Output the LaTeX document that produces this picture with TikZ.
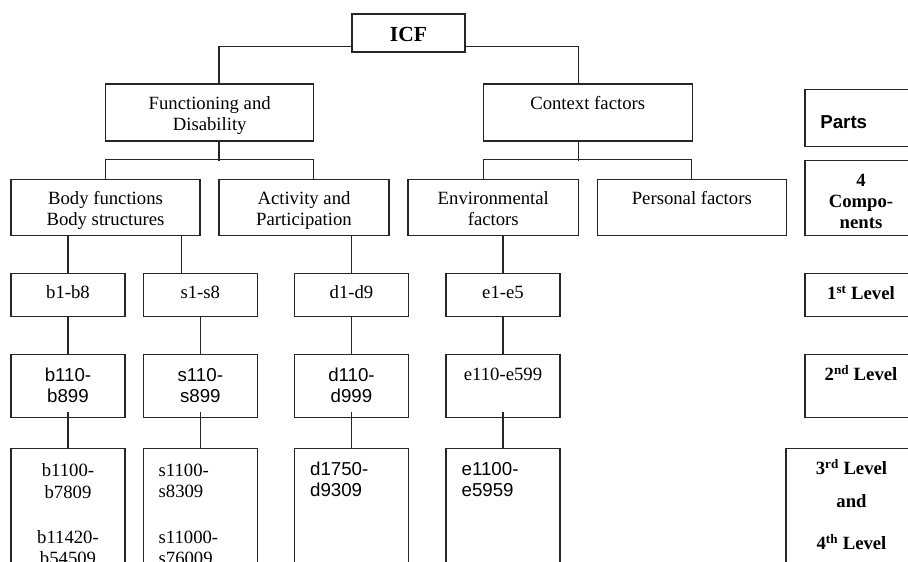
\documentclass[tikz,border=0pt]{standalone}
\usepackage{fontspec}
\setmainfont{Liberation Serif}
\newfontfamily\arialfont{Liberation Sans}
\usetikzlibrary{calc}
\tikzset{
  box/.style={draw=black!85,line width=1.1pt,inner sep=0pt},
  txt/.style={inner sep=0pt,align=center,font=\fontsize{18.7}{21.3}\selectfont},
  btxt/.style={txt,font=\bfseries\fontsize{18.7}{21.3}\selectfont},
  stxt/.style={txt,font=\arialfont\fontsize{18.7}{20.7}\selectfont},
  conn/.style={draw=black!85,line width=1.1pt},
}

\begin{document}
\begin{tikzpicture}[x=1pt,y=-1pt]
\clip (0,0) rectangle (908,562);

% parts and components
\node[box,minimum width=113pt,minimum height=38pt,label={[btxt,font=\bfseries\fontsize{21.5}{24}\selectfont,anchor=base,yshift=-28.3pt]north:ICF}] (icf) at (408.5,33) {};
\node[box,minimum width=208pt,minimum height=57pt,label={[txt,anchor=north,yshift=-13pt]north:{Functioning and\\Disability}}] (func) at (209.7,112.5) {};
\node[box,minimum width=208.7pt,minimum height=57pt,label={[txt,anchor=base,yshift=-26pt]north:Context factors}] (ctx) at (587.7,112.5) {};
\node[box,minimum width=189pt,minimum height=56.7pt,label={[txt,anchor=north,yshift=-12.5pt]north:{Body functions\\Body structures}}] (body) at (105.5,207.4) {};
\node[box,minimum width=170pt,minimum height=56.7pt,label={[txt,anchor=north,yshift=-12.5pt]north:{Activity and\\Participation}}] (act) at (304,207.4) {};
\node[box,minimum width=170.7pt,minimum height=56.7pt,label={[txt,anchor=north,yshift=-12.5pt]north:{Environmental\\factors}}] (env) at (493.3,207.4) {};
\node[box,minimum width=189pt,minimum height=56.7pt,label={[txt,anchor=base,yshift=-25.7pt]north:Personal factors}] (pers) at (691.8,207.4) {};

% 1st level
\node[box,minimum width=114pt,minimum height=43.4pt,label={[txt,anchor=base,yshift=-26pt]north:b1-b8}] (b1) at (68,295) {};
\node[box,minimum width=114pt,minimum height=43.4pt,label={[txt,anchor=base,yshift=-26pt]north:s1-s8}] (s1) at (200.3,295) {};
\node[box,minimum width=114pt,minimum height=43.4pt,label={[txt,anchor=base,yshift=-26pt]north:d1-d9}] (d1) at (351.5,295) {};
\node[box,minimum width=114pt,minimum height=43.4pt,label={[txt,anchor=base,yshift=-26pt]north:e1-e5}] (e1) at (503,295) {};

% 2nd level
\node[box,minimum width=114pt,minimum height=62.7pt,label={[stxt,anchor=north,yshift=-14.3pt]north:{b110-\\b899}}] (b2) at (68,385.7) {};
\node[box,minimum width=114pt,minimum height=62.7pt,label={[stxt,anchor=north,yshift=-14.3pt]north:{s110-\\s899}}] (s2) at (200.3,385.7) {};
\node[box,minimum width=114pt,minimum height=62.7pt,label={[stxt,anchor=north,yshift=-14.3pt]north:{d110-\\d999}}] (d2) at (351.5,385.7) {};
\node[box,minimum width=114pt,minimum height=62.7pt,label={[txt,anchor=base,yshift=-26.7pt]north:e110-e599}] (e2) at (503,385.7) {};

% 3rd and 4th level
\node[box,minimum width=114pt,minimum height=151.3pt,label={[txt,anchor=north,yshift=-15.5pt]north:{b1100-\\b7809\\[24pt]b11420-\\b54509}}] (b3) at (68,524.3) {};
\node[box,minimum width=114pt,minimum height=151.3pt,label={[txt,align=left,anchor=north west,xshift=15.7pt,yshift=-15.7pt]north west:{s1100-\\s8309\\[24pt]s11000-\\s76009}}] (s3) at (200.3,524.3) {};
\node[box,minimum width=114pt,minimum height=151.3pt,label={[stxt,align=left,anchor=north west,xshift=16pt,yshift=-14pt]north west:{d1750-\\d9309}}] (d3) at (351.5,524.3) {};
\node[box,minimum width=114pt,minimum height=151.3pt,label={[stxt,align=left,anchor=north west,xshift=16pt,yshift=-14pt]north west:{e1100-\\e5959}}] (e3) at (503,524.3) {};

% legend column
\node[box,minimum width=112pt,minimum height=57pt,label={[txt,font=\arialfont\bfseries\fontsize{18.7}{21.3}\selectfont,anchor=base west,xshift=15.7pt,yshift=-39pt]north west:Parts}] (parts) at (861,118.2) {};
\node[box,minimum width=112pt,minimum height=75.7pt,label={[btxt,anchor=north,yshift=-14pt]north:{4\\Compo-\\nents}}] (comp) at (861,198) {};
\node[box,minimum width=112pt,minimum height=43.4pt,label={[btxt,anchor=base,yshift=-27pt]north:1\textsuperscript{st} Level}] (lv1) at (861,295) {};
\node[box,minimum width=112pt,minimum height=62.7pt,label={[btxt,anchor=base,yshift=-26.7pt]north:2\textsuperscript{nd} Level}] (lv2) at (861,385.7) {};
\node[box,minimum width=131pt,minimum height=151.3pt,label={[btxt,anchor=north,yshift=-11.3pt]north:{3\textsuperscript{rd} Level\\[11pt]and\\[21.3pt]4\textsuperscript{th} Level}}] (lv3) at (851.5,524.3) {};

% connectors
\draw[conn] ([yshift=6pt]icf.south west) -| ([xshift=9.3pt]func.north);
\draw[conn] ([yshift=6pt]icf.south east) -| ([xshift=-9pt]ctx.north);
\draw[conn] ([xshift=9.3pt]func.south) -- ++(0,19);
\draw[conn] (body.north) -- ++(0,-19) -| ([xshift=9.7pt]act.north);
\draw[conn] ([xshift=-9pt]ctx.south) -- ++(0,19);
\draw[conn] ([xshift=-10pt]env.north) -- ++(0,-19) -| (pers.north);
\coordinate (bs) at ([xshift=76.2pt]body.south);
\draw[conn] (b1.north |- body.south) -- (b1.north);
\draw[conn] (bs) -- (bs |- s1.north);
\draw[conn] (d1.north |- act.south) -- (d1.north);
\draw[conn] (e1.north |- env.south) -- (e1.north);
\foreach \c in {b,s,d,e}{
  \draw[conn] (\c1.south) -- (\c2.north);
  \draw[conn] ([yshift=6pt]\c2.south) -- (\c3.north);
}

\end{tikzpicture}
\end{document}
